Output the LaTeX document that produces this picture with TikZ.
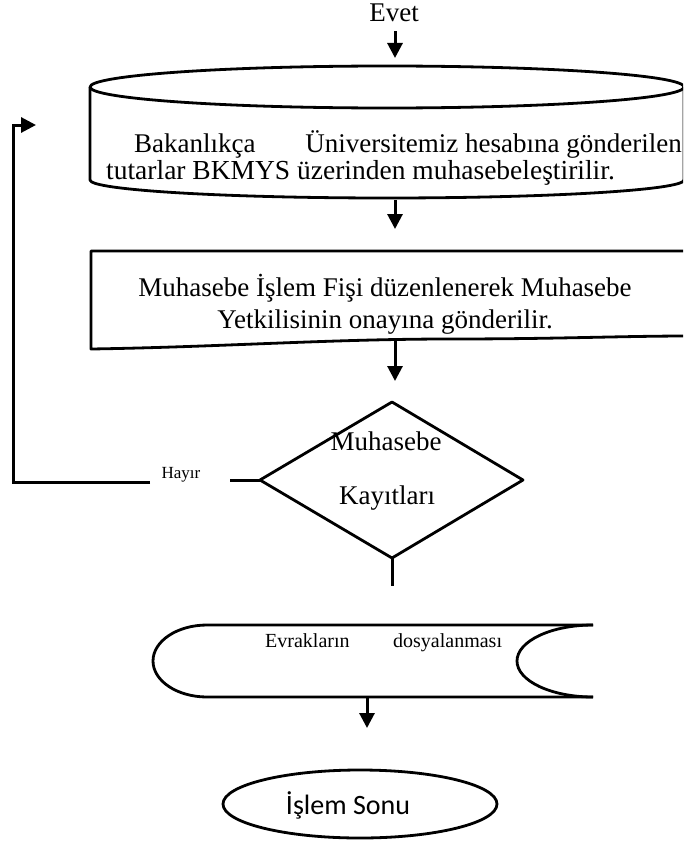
\documentclass[tikz,border=0pt]{standalone}
\usepackage{fontspec}
\setmainfont{Liberation Serif}
\newfontfamily\calib{Carlito}
\usetikzlibrary{arrows.meta,shapes.geometric}
\begin{document}
\begin{tikzpicture}[x=1pt,y=1pt,
  shp/.style={line width=2.8pt, line join=round},
  conn/.style={line width=3pt},
  arr/.style={conn,-{Triangle[width=15pt,length=15pt]}},
  txt/.style={font=\fontsize{27}{31}\selectfont, inner sep=0pt, anchor=base},
  smalltxt/.style={font=\fontsize{20}{24}\selectfont, inner sep=0pt, anchor=base west},
  tinytxt/.style={font=\fontsize{17}{20}\selectfont, inner sep=0pt, anchor=base},
]
\useasboundingbox (0,0) rectangle (683,-843);
\clip (0,0) rectangle (683,-843);

% Evet and first arrow
\node[txt] (evet) at (394,-22) {Evet};
\coordinate (cylT) at (395,-58);
\draw[arr] ([xshift=1pt,yshift=-9pt]evet.south) -- (cylT);

% cylinder (stored data)
\draw[shp] (387,-87) ellipse [x radius=297, y radius=21];
\draw[shp] (90,-87) -- (90,-180) arc[start angle=180, end angle=360, x radius=297, y radius=18] -- (684,-87);
\coordinate (cylB) at (395,-200);
\node[txt, anchor=base west] (c1a) at (134,-152) {Bakanlıkça};
\node[txt, anchor=base east] (c1b) at (682,-152) {Üniversitemiz hesabına gönderilen};
\node[font=\fontsize{27.5}{31}\selectfont, inner sep=0pt, anchor=base west] (c2) at (106,-179) {tutarlar BKMYS üzerinden muhasebeleştirilir.};

% document
\coordinate (docT) at (395,-229);
\draw[arr] (cylB) -- (docT);
\draw[shp] (690,-251) -- (91,-251) -- (91,-349) .. controls (220,-347) and (330,-339) .. (450,-339) .. controls (560,-339) and (620,-336) .. (690,-336);
\node[txt] (d1) at (385,-296) {Muhasebe İşlem Fişi düzenlenerek Muhasebe};
\node[txt] (d2) at (385,-328) {Yetkilisinin onayına gönderilir.};
\coordinate (docB) at (395,-341);
\coordinate (diaT0) at (395,-381);
\draw[arr] (docB) -- (diaT0);

% decision
\coordinate (dT) at (392,-402);
\coordinate (dR) at (523,-480);
\coordinate (dB) at (392,-558);
\coordinate (dL) at (260,-480);
\draw[shp] (dT) -- (dR) -- (dB) -- (dL) -- cycle;
\node[txt] (m1) at (386,-450) {Muhasebe};
\node[txt] (m2) at (387,-504) {Kayıtları};
\coordinate (dBend) at (392,-586);
\draw[conn] (dB) -- (dBend);

% no branch
\coordinate (hL) at (230,-480);
\draw[conn] (dL) -- (hL);
\node[tinytxt] (hayir) at (181,-478) {Hayır};
\coordinate (l1) at (150,-482);
\coordinate (l2) at (13,-482);
\coordinate (l3) at (13,-125);
\coordinate (l4) at (36,-125);
\draw[conn,-{Triangle[width=15pt,length=15pt]}] (l1) -- (l2) -- (l3) -- (l4);

% stored data shape (Evraklarin)
\draw[shp] (593,-625) -- (207,-625) arc[start angle=90, end angle=270, x radius=54, y radius=36] -- (593,-697);
\draw[shp] (593,-625) arc[start angle=90, end angle=270, x radius=76, y radius=36];
\node[smalltxt] (e1) at (265,-647) {Evrakların};
\node[smalltxt] (e2) at (393,-647) {dosyalanması};
\coordinate (eB) at (367,-698);
\coordinate (sonT) at (367,-728);
\draw[arr] (eB) -- (sonT);

% terminal
\node[shp, draw, ellipse, minimum width=274pt, minimum height=68pt, inner sep=0pt] (son) at (360,-804) {};
\node[font=\calib\fontsize{28}{32}\selectfont, inner sep=0pt, anchor=base] (sontxt) at (348,-814) {İşlem Sonu};
\end{tikzpicture}
\end{document}
